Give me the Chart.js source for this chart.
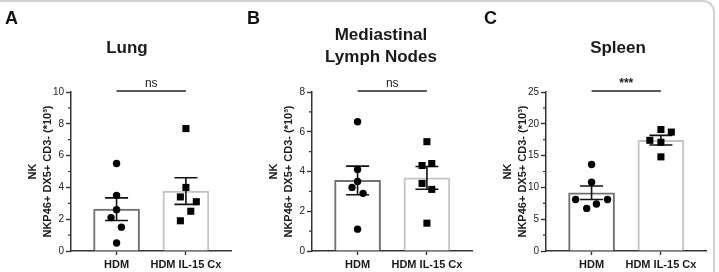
<!DOCTYPE html>
<html><head><meta charset="utf-8">
<script src="https://cdn.jsdelivr.net/npm/chart.js@4"></script>
<style>
body{margin:0;background:#fff;font-family:"Liberation Sans",Arial,sans-serif;}
#wrap{position:relative;width:719px;height:272px;overflow:hidden;}
.frame{position:absolute;left:-4px;top:0;width:719px;height:300px;border-top:2px solid #d2d2d2;border-right:2px solid #d2d2d2;border-top-right-radius:12px;box-sizing:border-box;}
.panel{position:absolute;top:0;width:240px;height:272px;}
.letter{position:absolute;top:8px;font:bold 18px/20px "Liberation Sans",Arial,sans-serif;color:#111;}
.title{position:absolute;width:200px;text-align:center;font:bold 17px/22px "Liberation Sans",Arial,sans-serif;color:#1a1a1a;}
</style></head>
<body><div id="wrap">
<div class="frame"></div>
<div class="panel" style="left:0"><canvas id="cA" width="240" height="272"></canvas></div>
<div class="panel" style="left:241px"><canvas id="cB" width="240" height="272"></canvas></div>
<div class="panel" style="left:475px"><canvas id="cC" width="240" height="272"></canvas></div>
<div class="letter" style="left:5px">A</div>
<div class="letter" style="left:247px">B</div>
<div class="letter" style="left:484px">C</div>
<div class="title" style="left:27px;top:37px">Lung</div>
<div class="title" style="left:281px;top:24px">Mediastinal<br>Lymph Nodes</div>
<div class="title" style="left:518px;top:37px">Spleen</div>
</div>
<script>
const groups=["HDM","HDM IL-15 Cx"];
const yTitle=["NK","NKP46+ DX5+ CD3- (*10³)"];

// lung
const lungHdm=[5.5,3.5,2.6,2.1,1.5,0.5];
const lungHdmX=[0,0,0,-0.08,0.07,0];
const lungCx=[7.7,4.0,3.4,3.1,2.5,1.9];
const lungCxX=[0,0,-0.08,0.15,0.07,-0.08];
const lungMean=[2.63,3.77];
const lungSem=[0.71,0.84];

// mediastinal lymph nodes
const mlnHdm=[6.5,4.1,3.5,3.2,2.9,1.1];
const mlnHdmX=[0,0,0,-0.08,0.08,0];
const mlnCx=[5.5,4.4,4.3,3.4,3.1,1.4];
const mlnCxX=[0,0.07,-0.07,-0.07,0.07,0];
const mlnMean=[3.55,3.68];
const mlnSem=[0.72,0.57];

// spleen
const splHdm=[13.6,10.8,8.1,8.1,7.4,6.7];
const splHdmX=[0,0,-0.23,0.23,0.07,-0.07];
const splCx=[19.1,18.7,17.4,17.1,14.8];
const splCxX=[0,0.15,-0.16,0,0];
const splMean=[9.16,17.42];
const splSem=[1.06,0.76];

const yMax=[10,8,25], yStep=[2,2,5], yMinor=[1,1,2.5];
const sigLabels=["ns","ns","***"];

const FAM='"Liberation Sans", Arial, sans-serif';

const errorBars={id:"errorBars",afterDatasetDraw(chart,args){
  const ds=chart.data.datasets[args.index]; if(ds.type!=="bar") return;
  const y=chart.scales.y, ctx=chart.ctx;
  ds.data.forEach((d,i)=>{
    const x=args.meta.data[i].x;
    const hi=y.getPixelForValue(d.y+ds.sem), lo=y.getPixelForValue(d.y-ds.sem);
    ctx.save(); ctx.strokeStyle="#111"; ctx.lineWidth=1.6; ctx.beginPath();
    ctx.moveTo(x,hi); ctx.lineTo(x,lo);
    ctx.moveTo(x-11.5,hi); ctx.lineTo(x+11.5,hi);
    ctx.moveTo(x-11.5,lo); ctx.lineTo(x+11.5,lo);
    ctx.stroke(); ctx.restore();
  });
}};

const sigBar={id:"sigBar",afterDraw(chart,args,opts){
  const x=chart.scales.x, ctx=chart.ctx, top=chart.chartArea.top-1;
  const x1=x.getPixelForValue(1), x2=x.getPixelForValue(2);
  ctx.save(); ctx.strokeStyle="#222"; ctx.lineWidth=1.4; ctx.beginPath();
  ctx.moveTo(x1,top); ctx.lineTo(x2,top); ctx.stroke();
  ctx.fillStyle="#222"; ctx.textAlign="center"; ctx.textBaseline="alphabetic";
  ctx.font=(opts.text==="ns"?"":"bold ")+"12px "+FAM;
  ctx.fillText(opts.text,(x1+x2)/2,top-4);
  ctx.restore();
}};

const minorTicks={id:"minorTicks",afterDraw(chart,args,opts){
  const y=chart.scales.y, ctx=chart.ctx, left=chart.chartArea.left;
  ctx.save(); ctx.strokeStyle="#333"; ctx.lineWidth=1.2; ctx.beginPath();
  for(let v=opts.step; v<y.max; v+=opts.step){
    if(Math.abs(v/opts.major-Math.round(v/opts.major))<1e-6) continue;
    const p=y.getPixelForValue(v); ctx.moveTo(left-3,p); ctx.lineTo(left,p);
  }
  ctx.stroke(); ctx.restore();
}};

function makeChart(id,idx,hdm,hdmX,cx,cxX,mean,sem){
  new Chart(document.getElementById(id),{
    type:"bar",
    data:{datasets:[
      {type:"scatter",data:hdm.map((v,i)=>({x:1+hdmX[i],y:v})),pointStyle:"circle",pointRadius:3.7,backgroundColor:"#000",borderWidth:0},
      {type:"scatter",data:cx.map((v,i)=>({x:2+cxX[i],y:v})),pointStyle:"rect",pointRadius:5,backgroundColor:"#000",borderWidth:0},
      {type:"bar",data:[{x:1,y:mean[0]}],sem:sem[0],backgroundColor:"#fff",borderColor:"#707070",borderWidth:2,barThickness:46,grouped:false},
      {type:"bar",data:[{x:2,y:mean[1]}],sem:sem[1],backgroundColor:"#fff",borderColor:"#c4c4c4",borderWidth:2,barThickness:46,grouped:false}
    ]},
    options:{
      responsive:false,animation:false,
      layout:{padding:{top:92,right:9,left:0,bottom:0}},
      plugins:{legend:{display:false},tooltip:{enabled:false},
        sigBar:{text:sigLabels[idx]},minorTicks:{step:yMinor[idx],major:yStep[idx]}},
      scales:{
        x:{type:"linear",min:0.343,max:2.65,offset:false,
          afterBuildTicks:s=>{s.ticks=[{value:1},{value:2}];},
          afterFit:s=>{s.height=21;},
          grid:{drawOnChartArea:false,offset:false,tickLength:4,tickColor:"#333",tickWidth:1.4},
          border:{color:"#333",width:1.5},
          ticks:{callback:(v,i)=>groups[i],autoSkip:false,maxRotation:0,padding:3,color:"#1a1a1a",font:{family:FAM,size:11,weight:"bold"}}},
        y:{min:0,max:yMax[idx],
          afterFit:s=>{s.width=71;},
          grid:{drawOnChartArea:false,tickLength:5,tickColor:"#333",tickWidth:1.4},
          border:{color:"#333",width:1.5},
          ticks:{stepSize:yStep[idx],padding:2,color:"#222",font:{family:FAM,size:10}},
          title:{display:true,text:yTitle,color:"#1a1a1a",padding:{top:25,bottom:0},font:{family:FAM,size:11,weight:"bold",lineHeight:1.4}}}
      }
    },
    plugins:[errorBars,sigBar,minorTicks]
  });
}

makeChart("cA",0,lungHdm,lungHdmX,lungCx,lungCxX,lungMean,lungSem);
makeChart("cB",1,mlnHdm,mlnHdmX,mlnCx,mlnCxX,mlnMean,mlnSem);
makeChart("cC",2,splHdm,splHdmX,splCx,splCxX,splMean,splSem);
</script>
</body></html>
